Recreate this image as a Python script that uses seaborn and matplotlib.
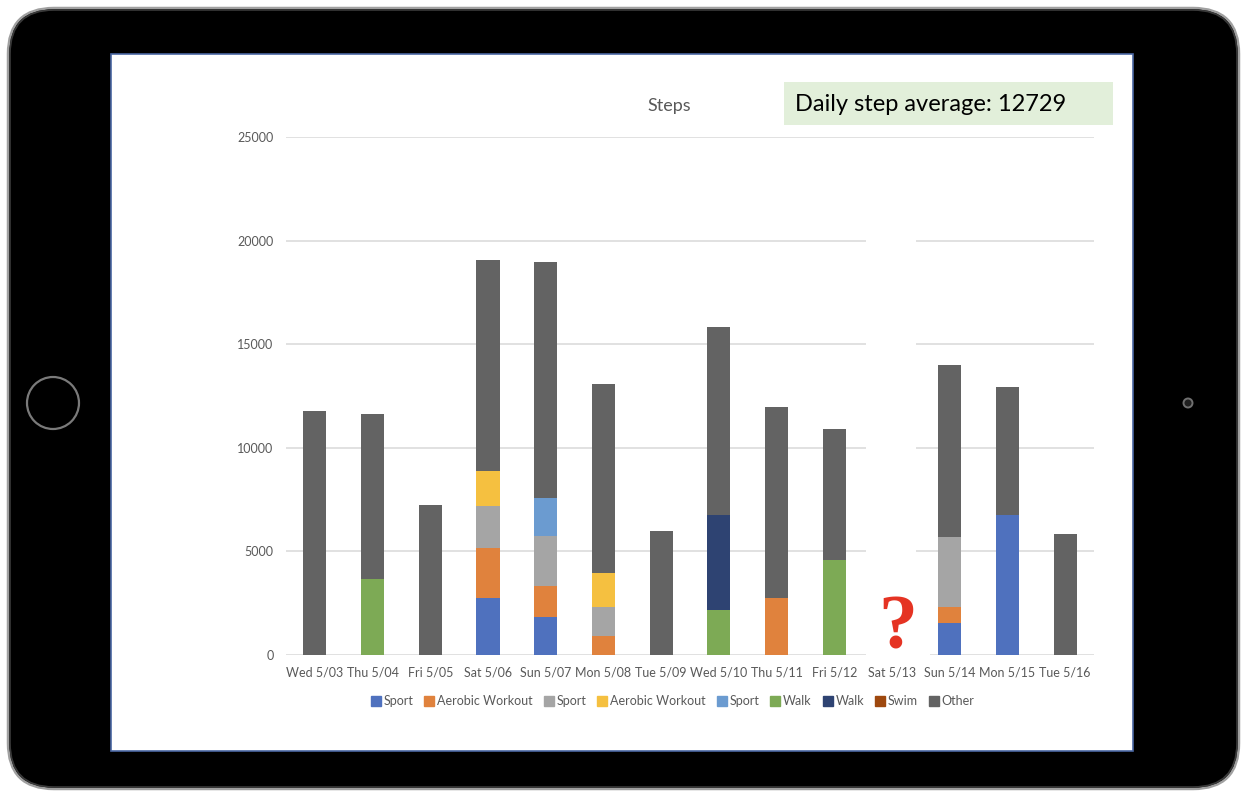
import matplotlib
matplotlib.use("Agg")
import matplotlib.pyplot as plt
from matplotlib.patches import FancyBboxPatch, Rectangle, Circle
from matplotlib.lines import Line2D
import numpy as np
import pandas as pd
import seaborn as sns

# ---- data ----
days = ["Wed 5/03", "Thu 5/04", "Fri 5/05", "Sat 5/06", "Sun 5/07", "Mon 5/08",
        "Tue 5/09", "Wed 5/10", "Thu 5/11", "Fri 5/12", "Sat 5/13", "Sun 5/14",
        "Mon 5/15", "Tue 5/16"]

sport_a   = [0, 0, 0, 2770, 1830, 0, 0, 0, 0, 0, 0, 1545, 6770, 0]
aerobic_a = [0, 0, 0, 2410, 1515, 930, 0, 0, 2770, 0, 0, 770, 0, 0]
sport_b   = [0, 0, 0, 2010, 2400, 1370, 0, 0, 0, 0, 0, 3380, 0, 0]
aerobic_b = [0, 0, 0, 1690, 0, 1640, 0, 0, 0, 0, 0, 0, 0, 0]
sport_c   = [0, 0, 0, 0, 1835, 0, 0, 0, 0, 0, 0, 0, 0, 0]
walk_a    = [0, 3670, 0, 0, 0, 0, 0, 2190, 0, 4600, 0, 0, 0, 0]
walk_b    = [0, 0, 0, 0, 0, 0, 0, 4580, 0, 0, 0, 0, 0, 0]
swim      = [0, 0, 0, 0, 0, 0, 0, 0, 0, 0, 0, 0, 0, 0]
other     = [11790, 7975, 7240, 10180, 11370, 9120, 5970, 9060, 9210, 6290, 0, 8315, 6160, 5840]

series_labels = ["Sport", "Aerobic Workout", "Sport", "Aerobic Workout", "Sport",
                 "Walk", "Walk", "Swim", "Other"]
series_values = [sport_a, aerobic_a, sport_b, aerobic_b, sport_c, walk_a, walk_b, swim, other]
series_colors = ["#4F71BE", "#E0823D", "#A5A5A5", "#F5C040", "#6B9BD0",
                 "#7DAA55", "#2E4372", "#9E480E", "#636363"]

average_text = "Daily step average: 12729"

# long table, one row per (day, series)
rows = []
for k, (lab, vals) in enumerate(zip(series_labels, series_values)):
    for d, v in zip(days, vals):
        rows.append({"day": d, "series": k, "label": lab, "steps": v})
df = pd.DataFrame(rows)
wide = df.pivot(index="day", columns="series", values="steps").loc[days]
cum = wide.cumsum(axis=1)

# ---- styling ----
sns.set_style("white")
plt.rcParams["font.family"] = ["Lato", "DejaVu Sans"]
txt_gray = "#595959"

W, H = 1244, 797
fig = plt.figure(figsize=(W / 100, H / 100), dpi=100)
fig.patch.set_facecolor("white")

# device frame drawn in pixel coordinates
bg = fig.add_axes([0, 0, 1, 1])
bg.set_xlim(0, W)
bg.set_ylim(H, 0)
bg.axis("off")
bg.add_patch(FancyBboxPatch((8, 8), 1231, 781,
                            boxstyle="round,pad=0,rounding_size=46",
                            facecolor="black", edgecolor="#a0a0a0", lw=1.8))
bg.add_patch(FancyBboxPatch((10, 10), 1227, 777,
                            boxstyle="round,pad=0,rounding_size=44",
                            facecolor="none", edgecolor="#3a3a3a", lw=1.2))
bg.add_patch(Rectangle((111, 54), 1022, 697, facecolor="white",
                       edgecolor="#4A67A3", lw=1.2))
bg.add_patch(Circle((53, 403), 26, facecolor="black", edgecolor="#7a7a7a", lw=1.6))
bg.add_patch(Circle((1188, 403), 4.5, facecolor="#202020", edgecolor="#707070", lw=1.4))

# title and average box
bg.text(669, 106, "Steps", fontsize=13, color=txt_gray, ha="center", va="center")
bg.add_patch(Rectangle((784, 82), 329, 43, facecolor="#E2EFDA", edgecolor="none"))
bg.text(795, 104, average_text, fontsize=17, color="black", ha="left", va="center")

# ---- chart ----
ax = fig.add_axes([286 / W, (H - 655) / H, 808 / W, 518 / H])
ax.set_facecolor("none")

# stacked bars: draw cumulative totals from the top layer down
for k in range(len(series_labels) - 1, -1, -1):
    sns.barplot(x=days, y=cum[k].values, order=days, color=series_colors[k],
                saturation=1, width=0.4, ax=ax, errorbar=None, zorder=2,
                linewidth=0, edgecolor="none")

ax.set_ylim(0, 25000)
ax.set_xlim(-0.5, len(days) - 0.5)
ax.set_yticks(np.arange(0, 25001, 5000))
ax.grid(axis="y", color="#D9D9D9", lw=1.1)
ax.grid(axis="x", visible=False)
ax.set_axisbelow(True)
for s in ax.spines.values():
    s.set_visible(False)
ax.tick_params(axis="both", length=0, labelsize=9, labelcolor=txt_gray)
ax.tick_params(axis="y", pad=9)
ax.tick_params(axis="x", pad=8)
ax.set_xlabel("")
ax.set_ylabel("")

# blank band over the missing day
ax.add_patch(Rectangle((9.55, -300), 0.87, 20800, facecolor="white",
                       edgecolor="none", zorder=1))
ax.add_patch(Rectangle((10.40, -300), 0.25, 600, facecolor="white",
                       edgecolor="none", zorder=1, clip_on=False))
ax.text(10.1, 330, "?", fontsize=56, fontweight="bold", color="#E53323",
        family=["Liberation Serif", "DejaVu Serif"], ha="center", va="baseline",
        zorder=3)

# legend
handles = [Line2D([0], [0], marker="s", linestyle="none", markersize=6.5,
                  markerfacecolor=c, markeredgecolor=c) for c in series_colors]
leg = fig.legend(handles, series_labels, loc="center", ncol=9,
                 bbox_to_anchor=(672 / W, 1 - 701 / H), frameon=False,
                 fontsize=9, handletextpad=0.1, columnspacing=0.8,
                 handlelength=1.0, borderpad=0)
for t in leg.get_texts():
    t.set_color(txt_gray)

fig.savefig("out.png", dpi=100)
